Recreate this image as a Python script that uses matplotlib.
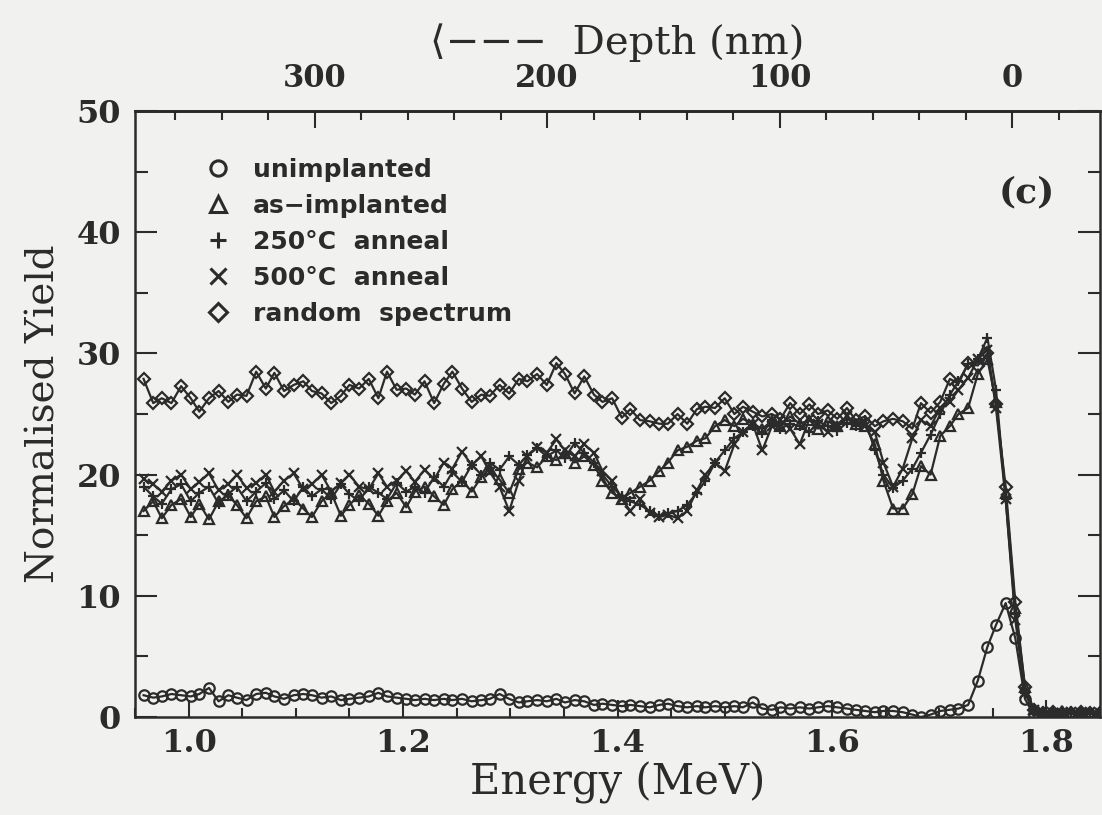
import numpy as np
import matplotlib
matplotlib.use("Agg")
import matplotlib.pyplot as plt
from matplotlib.lines import Line2D
from matplotlib.ticker import MultipleLocator

# channel energies (MeV)
energy = [0.958, 0.967, 0.975, 0.984, 0.993, 1.002, 1.010, 1.019, 1.028, 1.037,
          1.045, 1.054, 1.063, 1.072, 1.080, 1.089, 1.098, 1.107, 1.115, 1.124,
          1.133, 1.142, 1.150, 1.159, 1.168, 1.177, 1.185, 1.194, 1.203, 1.211,
          1.220, 1.229, 1.238, 1.246, 1.255, 1.264, 1.273, 1.281, 1.290, 1.299,
          1.308, 1.316, 1.325, 1.334, 1.343, 1.351, 1.360, 1.369, 1.378, 1.386,
          1.395, 1.404, 1.412, 1.421, 1.430, 1.439, 1.447, 1.456, 1.465, 1.474,
          1.482, 1.491, 1.500, 1.509, 1.517, 1.526, 1.535, 1.544, 1.552, 1.561,
          1.570, 1.579, 1.587, 1.596, 1.605, 1.614, 1.622, 1.631, 1.640, 1.648,
          1.657, 1.666, 1.675, 1.683, 1.692, 1.701, 1.710, 1.718, 1.727, 1.736,
          1.745, 1.753, 1.762, 1.771, 1.780, 1.788, 1.797, 1.806, 1.815, 1.823,
          1.832, 1.841, 1.850]

unimplanted = [1.8, 1.6, 1.7, 1.9, 1.8, 1.7, 1.9, 2.4, 1.3, 1.8,
               1.6, 1.4, 1.9, 2.0, 1.7, 1.5, 1.8, 1.9, 1.8, 1.6,
               1.7, 1.4, 1.5, 1.6, 1.7, 2.0, 1.7, 1.6, 1.5, 1.4,
               1.5, 1.4, 1.5, 1.4, 1.5, 1.3, 1.4, 1.5, 1.9, 1.5,
               1.2, 1.3, 1.4, 1.3, 1.5, 1.2, 1.4, 1.3, 1.0, 1.1,
               1.0, 0.9, 1.0, 0.9, 0.8, 1.0, 1.1, 0.9, 0.8, 0.9,
               0.8, 0.9, 0.8, 0.9, 0.8, 1.2, 0.7, 0.6, 0.8, 0.7,
               0.8, 0.7, 0.8, 0.9, 0.8, 0.7, 0.6, 0.5, 0.4, 0.5,
               0.5, 0.4, 0.2, 0.0, 0.2, 0.5, 0.6, 0.7, 1.0, 3.0,
               5.8, 7.6, 9.4, 6.5, 1.5, 0.2, 0.1, 0.0, 0.1, 0.0,
               0.1, 0.0, 0.1]

as_implanted = [17.0, 17.8, 16.4, 17.5, 18.0, 16.5, 17.6, 16.3, 17.8, 18.3,
                17.5, 16.4, 17.8, 18.2, 16.5, 17.4, 18.0, 17.2, 16.5, 17.8,
                18.5, 16.6, 17.5, 18.3, 17.6, 16.6, 17.8, 18.5, 17.3, 18.6,
                19.0, 18.2, 17.5, 18.8, 19.5, 18.6, 19.8, 20.5, 19.6, 18.5,
                20.5, 21.0, 20.6, 21.5, 21.2, 21.8, 21.0, 21.5, 20.8, 19.5,
                18.5, 18.0, 18.5, 19.0, 19.5, 20.3, 21.0, 22.0, 22.3, 22.8,
                23.0, 24.0, 24.5, 24.0, 24.6, 24.2, 23.8, 24.4, 24.0, 24.8,
                24.2, 24.5, 23.8, 24.4, 24.0, 24.6, 24.2, 24.0, 22.5, 19.5,
                17.2, 17.2, 18.4, 20.7, 20.0, 23.2, 24.0, 25.0, 25.5, 28.3,
                29.5, 26.0, 18.5, 9.0, 2.5, 0.7, 0.4, 0.3, 0.5, 0.3,
                0.4, 0.3, 0.4]

anneal_250 = [19.0, 18.2, 17.6, 18.8, 19.2, 17.8, 18.5, 19.0, 17.6, 18.4,
              19.0, 17.8, 18.6, 19.3, 18.0, 18.7, 17.8, 19.0, 18.2, 18.8,
              18.0, 19.2, 18.4, 17.8, 19.0, 18.5, 18.0, 19.3, 18.6, 19.0,
              18.5, 19.8, 19.0, 20.2, 19.4, 20.8, 20.0, 21.0, 20.4, 21.5,
              20.8, 21.6, 22.2, 21.5, 22.0, 21.4, 22.6, 21.8, 21.0, 20.0,
              19.0, 18.2, 17.8, 17.5, 17.0, 16.6, 16.8, 17.0, 17.5, 18.5,
              19.5, 21.0, 22.0, 23.0, 23.5, 24.0, 23.4, 24.5, 23.8, 24.2,
              24.0, 23.5, 24.4, 24.0, 23.6, 24.3, 24.0, 24.5, 22.0, 20.0,
              18.9, 19.5, 20.5, 21.8, 23.3, 25.0, 26.6, 27.7, 29.1, 29.5,
              31.3, 27.0, 18.0, 8.5, 2.0, 0.5, 0.3, 0.4, 0.3, 0.5,
              0.3, 0.3, 0.4]

anneal_500 = [19.6, 19.2, 18.6, 19.5, 20.0, 18.8, 19.4, 20.1, 18.7, 19.2,
              20.0, 18.9, 19.3, 20.0, 18.6, 19.5, 20.1, 18.8, 19.2, 20.0,
              18.6, 19.3, 20.0, 19.0, 18.8, 20.1, 19.0, 19.5, 20.3, 19.4,
              20.4, 19.6, 21.0, 20.5, 21.9, 20.8, 21.5, 20.2, 19.0, 17.0,
              19.5, 21.5, 22.3, 21.8, 22.9, 22.0, 21.5, 22.5, 21.8, 20.3,
              19.5, 18.0, 17.0, 18.0, 16.8, 16.5, 16.7, 16.4, 17.0, 18.7,
              20.0, 21.0, 20.3, 22.5, 23.5, 24.2, 22.0, 24.0, 24.5, 23.8,
              22.5, 24.6, 24.2, 23.5, 24.0, 24.8, 24.3, 24.0, 23.5, 21.0,
              19.0, 20.5, 23.0, 24.5, 24.0, 25.5, 26.0, 27.0, 28.0, 29.5,
              30.3, 25.5, 18.0, 8.0, 2.0, 0.6, 0.4, 0.3, 0.3, 0.4,
              0.3, 0.4, 0.3]

random_spec = [27.9, 25.9, 26.3, 25.9, 27.3, 26.3, 25.2, 26.3, 26.9, 26.0,
               26.6, 26.5, 28.5, 27.1, 28.4, 26.9, 27.4, 27.7, 26.9, 26.7,
               25.9, 26.5, 27.4, 27.1, 27.9, 26.3, 28.5, 27.0, 27.1, 26.6,
               27.7, 25.9, 27.5, 28.5, 27.1, 26.0, 26.6, 26.5, 27.4, 26.7,
               27.9, 27.7, 28.3, 27.4, 29.2, 28.3, 26.7, 28.1, 26.6, 26.0,
               26.3, 24.7, 25.4, 24.5, 24.4, 24.2, 24.2, 25.0, 24.2, 25.4,
               25.6, 25.5, 26.3, 25.0, 25.6, 25.2, 24.8, 25.0, 24.6, 25.9,
               25.0, 25.8, 25.0, 25.3, 24.6, 25.5, 24.5, 24.8, 24.0, 24.4,
               24.6, 24.4, 23.8, 25.9, 25.1, 26.0, 27.9, 27.5, 29.2, 29.0,
               30.0, 25.8, 19.0, 9.5, 2.5, 0.6, 0.3, 0.4, 0.3, 0.3,
               0.4, 0.3, 0.3]

labels = ["unimplanted", "as\u2212implanted", "250\u00b0C  anneal",
          "500\u00b0C  anneal", "random  spectrum"]
markers = ["o", "^", "+", "x", "D"]
series = [unimplanted, as_implanted, anneal_250, anneal_500, random_spec]

# depth scale: surface at 1.768 MeV, 0.002168 MeV per nm
E_SURF = 1.768
K_DEPTH = 0.002168


def e2d(e):
    return (E_SURF - np.asarray(e)) / K_DEPTH


def d2e(d):
    return E_SURF - np.asarray(d) * K_DEPTH


ink = "#2b2b2b"
paper = "#f1f1ef"
serif = ["DejaVu Serif", "DejaVu Sans"]

fig = plt.figure(figsize=(11.02, 8.15), dpi=100, facecolor=paper)
ax = fig.add_axes([0.1225, 0.1202, 0.8757, 0.7436], facecolor=paper)

for y, m in zip(series, markers):
    ms = 6 if m == "D" else 7.5
    ax.plot(energy, y, color=ink, lw=1.6, marker=m, ms=ms,
            mfc="none", mec=ink, mew=1.6)

ax.set_xlim(0.95, 1.85)
ax.set_ylim(0, 50)
ax.xaxis.set_minor_locator(MultipleLocator(0.05))
ax.yaxis.set_major_locator(MultipleLocator(10))
ax.yaxis.set_minor_locator(MultipleLocator(5))
ax.set_xticks([1.0, 1.2, 1.4, 1.6, 1.8])
ax.set_xticklabels(["1.0", "1.2", "1.4", "1.6", "1.8"])

ax.tick_params(axis="x", which="both", direction="in", top=False,
               bottom=True, colors=ink, width=1.5)
ax.tick_params(axis="y", which="both", direction="in", left=True,
               right=True, colors=ink, width=1.5)
ax.tick_params(axis="x", which="major", length=12, pad=8)
ax.tick_params(axis="x", which="minor", length=6.5)
ax.tick_params(axis="y", which="major", length=16, pad=10)
ax.tick_params(axis="y", which="minor", length=9)
for lab in ax.get_xticklabels() + ax.get_yticklabels():
    lab.set_family(serif)
    lab.set_weight("bold")
    lab.set_size(23)
    lab.set_color(ink)
for sp in ax.spines.values():
    sp.set_linewidth(1.8)
    sp.set_color(ink)

top = ax.secondary_xaxis("top", functions=(e2d, d2e))
top.set_xticks([300, 200, 100, 0])
top.xaxis.set_minor_locator(MultipleLocator(20))
top.tick_params(which="both", direction="in", colors=ink, width=1.5)
top.tick_params(which="major", length=12, pad=12)
top.tick_params(which="minor", length=6.5)
for lab in top.get_xticklabels():
    lab.set_family(serif)
    lab.set_weight("bold")
    lab.set_size(22)
    lab.set_color(ink)
top.spines["top"].set_linewidth(1.8)
top.set_xlabel("\u27e8\u2212\u2212\u2212  Depth (nm)", family=serif,
               size=29, color=ink, labelpad=7)

ax.set_xlabel("Energy (MeV)", family=serif, size=30, color=ink, labelpad=2)
ax.set_ylabel("Normalised Yield", family=serif, size=28, color=ink,
              labelpad=10)

ax.text(0.924, 0.865, "(c)", transform=ax.transAxes, family=serif,
        weight="bold", size=26, color=ink, ha="center", va="center")

handles = [Line2D([], [], ls="none", marker=m, ms=(9 if m == "D" else 11),
                  mfc="none", mec=ink, mew=2.2) for m in markers]
leg = ax.legend(handles, labels, loc="upper left",
                bbox_to_anchor=(0.05, 0.96), frameon=False,
                handlelength=1.0, handletextpad=0.9, labelspacing=0.48,
                prop={"family": "DejaVu Sans", "weight": "bold", "size": 18})
for t in leg.get_texts():
    t.set_color(ink)

fig.savefig("out.png", dpi=100, facecolor=paper)
